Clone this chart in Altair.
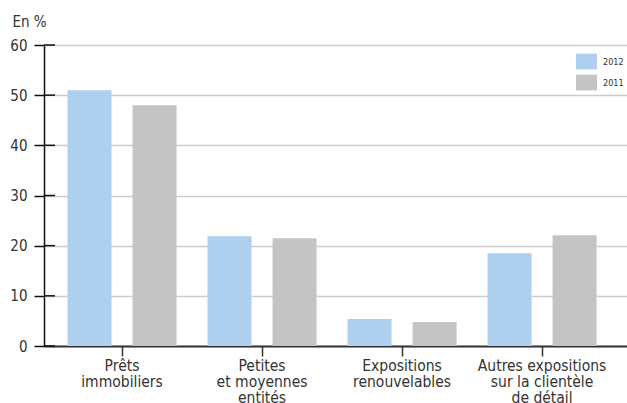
import altair as alt
import pandas as pd

categories = ["Prêts\nimmobiliers", "Petites\net moyennes\nentités",
              "Expositions\nrenouvelables", "Autres expositions\nsur la clientèle\nde détail"]
years = ["2012", "2011"]
v2012 = [51.0, 21.9, 5.4, 18.5]
v2011 = [48.0, 21.5, 4.8, 22.1]
y_ticks = [0, 10, 20, 30, 40, 50, 60]
colors = ["#aecfee", "#c4c4c4"]

rows = []
for c, a, b in zip(categories, v2012, v2011):
    rows.append({"cat": c, "year": "2012", "val": a})
    rows.append({"cat": c, "year": "2011", "val": b})
df = pd.DataFrame(rows)
ticks_df = pd.DataFrame({"t": y_ticks})

FONT = "DejaVu Sans Condensed, Liberation Sans Narrow, sans-serif"

bars = alt.Chart(df).mark_bar().encode(
    x=alt.X("cat:N", sort=categories,
            scale=alt.Scale(paddingInner=0, paddingOuter=0.082, align=0.35),
            axis=alt.Axis(title=None, labelAngle=0, labelExpr="split(datum.label, '\\n')",
                          labelFontSize=15.5, labelColor="#333333", labelFont=FONT,
                          labelLineHeight=16, labelPadding=2, labelBaseline="top",
                          tickSize=10, tickColor="#333333", tickWidth=1.5,
                          domainColor="#333333", domainWidth=2, grid=False)),
    xOffset=alt.XOffset("year:N", sort=years,
                        scale=alt.Scale(paddingInner=0.323, paddingOuter=0.238)),
    y=alt.Y("val:Q", scale=alt.Scale(domain=[0, 60], nice=False),
            axis=alt.Axis(values=y_ticks, title="En %", titleAngle=0, titleX=-32, titleY=-19,
                          titleAlign="left", titleBaseline="alphabetic", titleFont=FONT,
                          titleFontSize=15, titleFontWeight="normal", titleColor="#333333",
                          labelFont=FONT, labelFontSize=15, labelColor="#333333", labelPadding=7,
                          tickSize=10, tickColor="#111111", tickWidth=1.5,
                          domainColor="#111111", domainWidth=1.5,
                          gridColor="#cccccc", gridWidth=1.5)),
    color=alt.Color("year:N", sort=years,
                    scale=alt.Scale(domain=years, range=colors),
                    legend=alt.Legend(title=None, orient="none", legendX=532, legendY=6,
                                      symbolType="M-1,-0.75H1V0.75H-1Z", symbolSize=441,
                                      symbolStrokeWidth=0, symbolOpacity=1,
                                      labelFontSize=9, labelFont=FONT, labelColor="#333333",
                                      labelOffset=6, rowPadding=2, padding=0)),
)

tick_right = alt.Chart(ticks_df).mark_rule(color="#111111", strokeWidth=1.5).encode(
    y="t:Q", x=alt.value(0), x2=alt.value(11)
)

chart = alt.layer(bars, tick_right).properties(
    width=583, height=301,
    autosize=alt.AutoSizeParams(type="none"),
    padding={"left": 44, "top": 45, "right": 0, "bottom": 57},
).configure_view(stroke=None)

chart.save("out.html", embed_options={"renderer": "svg", "actions": False})
